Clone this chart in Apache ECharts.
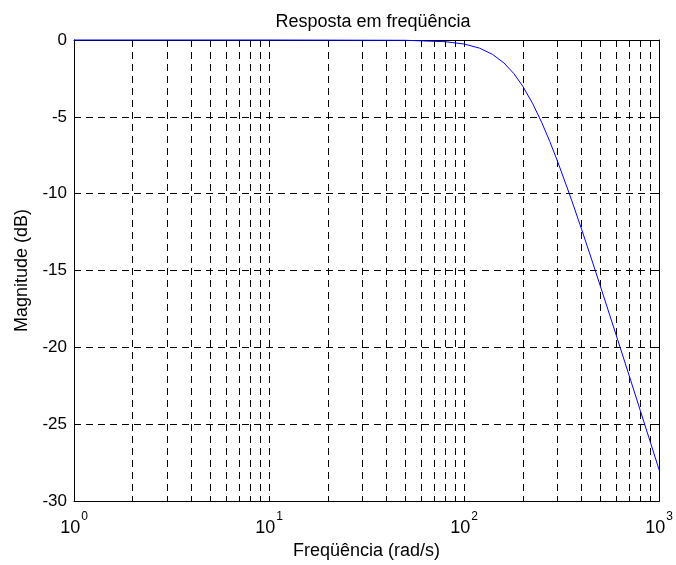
<!DOCTYPE html>
<html>
<head>
<meta charset="utf-8">
<script src="https://cdn.jsdelivr.net/npm/echarts@6/dist/echarts.min.js"></script>
<style>
html,body{margin:0;padding:0;background:#fff;}
#chart{width:676px;height:565px;}
</style>
</head>
<body>
<div id="chart"></div>
<script>
// Frequency (rad/s) and magnitude (dB)
const freq = [1, 10, 50, 80, 100, 120, 140, 160, 180, 200, 225, 250, 275, 300, 350, 400, 450, 500, 600, 700, 800, 900, 1000];
const magDb = [0, 0, -0.02, -0.11, -0.26, -0.53, -0.94, -1.49, -2.19, -3.01, -4.15, -5.37, -6.6, -7.83, -10.16, -12.3, -14.25, -16.03, -19.14, -21.79, -24.1, -26.14, -27.97];
// Tick positions
const xMajorTicks = [1, 10, 100, 1000];
const xAllTicks = [1,2,3,4,5,6,7,8,9,10,20,30,40,50,60,70,80,90,100,200,300,400,500,600,700,800,900,1000];
const yTicks = [0, -5, -10, -15, -20, -25, -30];

const FONT = '"Liberation Sans", Arial, Helvetica, sans-serif';
const chart = echarts.init(document.getElementById('chart'), null, {renderer: 'canvas'});

const gridDash = {color: '#000', width: 1, type: [7, 5]};

const option = {
  animation: false,
  backgroundColor: '#fff',
  title: {
    text: 'Resposta em freqüência',
    left: 368, textAlign: 'center', top: 8,
    textStyle: {fontFamily: FONT, fontSize: 18, fontWeight: 'normal', color: '#000'}
  },
  grid: {left: 74, right: 14, top: 40, bottom: 62, containLabel: false},
  xAxis: [{
    type: 'log', logBase: 10, min: 1, max: 1000,
    name: 'Freqüência (rad/s)', nameLocation: 'middle', nameGap: 40,
    nameTextStyle: {fontFamily: FONT, fontSize: 18, color: '#000'},
    axisLine: {show: true, onZero: false, lineStyle: {color: '#000', width: 1}},
    axisTick: {show: true, inside: true, length: 5, customValues: xAllTicks, lineStyle: {color: '#000'}},
    axisLabel: {
      customValues: xMajorTicks, margin: 10, color: '#000',
      formatter: function (v) { return '{b|10}{s|' + Math.round(Math.log10(v)) + '}'; },
      rich: {
        b: {fontFamily: FONT, fontSize: 18, color: '#000', verticalAlign: 'bottom', lineHeight: 26},
        s: {fontFamily: FONT, fontSize: 12, color: '#000', verticalAlign: 'top', lineHeight: 26, padding: [0, 0, 0, 1]}
      }
    },
    splitLine: {show: true, lineStyle: gridDash},
    minorTick: {show: false}
  }, {
    type: 'log', logBase: 10, min: 1, max: 1000, position: 'top',
    axisLine: {show: true, onZero: false, lineStyle: {color: '#000', width: 1}},
    axisTick: {show: true, inside: true, length: 5, customValues: xAllTicks, lineStyle: {color: '#000'}},
    axisLabel: {show: false},
    splitLine: {show: false}
  }],
  yAxis: [{
    type: 'value', min: -30, max: 0, interval: 5,
    name: 'Magnitude (dB)', nameLocation: 'middle', nameGap: 42,
    nameTextStyle: {fontFamily: FONT, fontSize: 18, color: '#000'},
    axisLine: {show: true, onZero: false, lineStyle: {color: '#000', width: 1}},
    axisTick: {show: true, inside: true, length: 5, lineStyle: {color: '#000'}},
    axisLabel: {
      customValues: yTicks, margin: 7,
      fontFamily: FONT, fontSize: 17, color: '#000'
    },
    splitLine: {show: true, lineStyle: gridDash}
  }, {
    type: 'value', min: -30, max: 0, interval: 5, position: 'right',
    axisLine: {show: true, onZero: false, lineStyle: {color: '#000', width: 1}},
    axisTick: {show: true, inside: true, length: 5, lineStyle: {color: '#000'}},
    axisLabel: {show: false},
    splitLine: {show: false}
  }],
  series: [{
    type: 'line',
    xAxisIndex: 0, yAxisIndex: 0,
    data: freq.map((f, i) => [f, magDb[i]]),
    showSymbol: false, symbol: 'none',
    lineStyle: {color: '#0000ff', width: 1},
    clip: false, z: 5
  }]
};
chart.setOption(option);
</script>
</body>
</html>
